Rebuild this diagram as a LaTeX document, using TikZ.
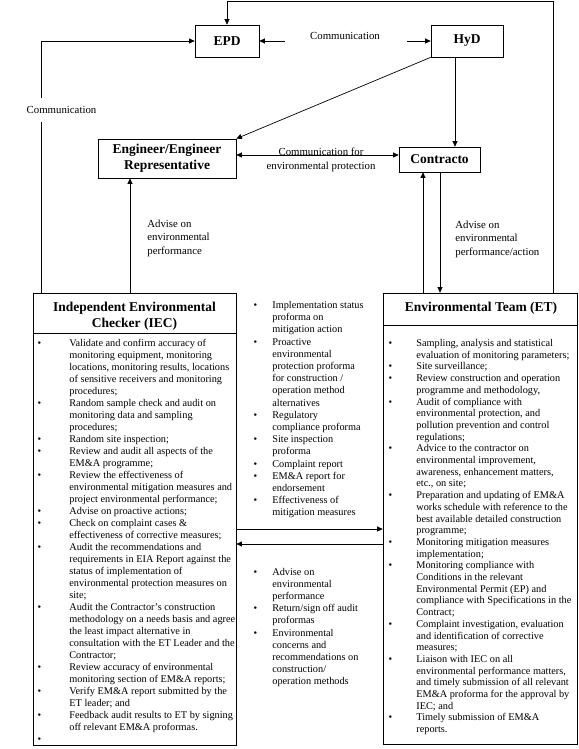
\documentclass[tikz,border=0pt]{standalone}
\usepackage{fontspec}
\setmainfont{Liberation Serif}
\usetikzlibrary{arrows.meta}
\newlength\hind
\newcommand{\bl}[1]{\par\noindent\hangindent=\hind\hangafter=1\makebox[\hind][l]{\textbullet}#1}
\newcommand{\blist}[3]{\parbox[t]{250pt}{\setlength\hind{#1}\fontsize{10.3}{#2}\selectfont\setlength\parskip{0pt}#3}}
\newcommand\headf{\fontsize{13.5}{16}\selectfont\bfseries}
\newcommand\lblf{\fontsize{10.8}{13.5}\selectfont}
\begin{document}
\begin{tikzpicture}[x=1pt,y=-1pt,line width=0.7pt,
  arr/.style={-{Triangle[length=5.5pt,width=5pt]}},
  arrb/.style={{Triangle[length=5.5pt,width=5pt]}-{Triangle[length=5.5pt,width=5pt]}},
  hbox/.style={draw,inner sep=0pt,font=\headf},
  bigbox/.style={draw,inner sep=0pt},
  lbl/.style={inner sep=0pt,font=\lblf}]
\useasboundingbox (0,0) rectangle (578,749);

% boxes
\node[hbox,minimum width=64pt,minimum height=32pt] (EPD) at (227,41) {EPD};
\node[hbox,minimum width=72pt,minimum height=32pt] (HyD) at (467,41) {HyD};
\node[hbox,minimum width=138pt,minimum height=39pt,align=center] (ENG) at (167,158.5) {Engineer/Engineer\\Representative};
\node[hbox,minimum width=81pt,minimum height=25pt] (CON) at (439.5,159.5) {Contracto};
\node[bigbox,minimum width=203pt,minimum height=452pt] (IEC) at (134.5,519) {};
\node[bigbox,minimum width=194pt,minimum height=451pt] (ET) at (480,518.5) {};
\draw (IEC.west |- 0,333) -- (IEC.east |- 0,333);
\draw (ET.west |- 0,325) -- (ET.east |- 0,325);

% titles
\node[anchor=base,inner sep=0pt] (IECt) at (134.5,311.5) {\parbox[t]{200pt}{\centering\headf Independent Environmental\\ Checker (IEC)}};
\node[anchor=base,inner sep=0pt,font=\headf] (ETt) at (481,311.5) {Environmental Team (ET)};

% connectors
\coordinate (tr) at (553,1);
\draw[arr] (ET.north -| tr) |- (EPD.north |- tr) -- (EPD.north);
\coordinate (lc) at (41,41);
\draw[arr] (IEC.north -| lc) -- node[pos=0.726,xshift=20.5pt,fill=white,inner xsep=1pt,inner ysep=8pt,font=\lblf] (commL) {Communication} (lc) -- (EPD.west |- lc);
\coordinate (c1) at (285,41);
\coordinate (c2) at (407,41);
\draw[arr] (c1) -- (EPD.east |- c1);
\draw[arr] (c2) -- (HyD.west |- c2);
\node[lbl] (commT) at (345,36) {Communication};
\draw[arr] (HyD.south west) -- (ENG.north east);
\coordinate (hx) at (455,57);
\draw[arr] (HyD.south -| hx) -- (CON.north -| hx);
\coordinate (ec) at (300,155);
\draw[arrb] (ENG.east |- ec) -- (CON.west |- ec);
\node[anchor=base,inner sep=0pt] (commE) at (321,155.5) {\parbox[t]{140pt}{\centering\lblf Communication for\\ environmental protection}};
\coordinate (ia) at (130,0);
\draw[arr] (IEC.north -| ia) -- (ENG.south -| ia);
\node[anchor=base west,inner sep=0pt] (advL) at (147,227) {\parbox[t]{100pt}{\lblf Advise on\\ environmental\\ performance}};
\coordinate (cd) at (440,0);
\draw[arr] (CON.south -| cd) -- (ET.north -| cd);
\coordinate (cu) at (423,0);
\draw[arr] (ET.north -| cu) -- (CON.south -| cu);
\node[anchor=base west,inner sep=0pt] (advR) at (455,228) {\parbox[t]{120pt}{\lblf Advise on\\ environmental\\ performance/action}};
\coordinate (m1) at (0,529);
\draw[arr] (IEC.east |- m1) -- (ET.west |- m1);
\coordinate (m2) at (0,544);
\draw[arr] (ET.west |- m2) -- (IEC.east |- m2);

% lists
\node[anchor=base west,inner sep=0pt] (iecl) at (37.2,346.5) {\blist{31.8pt}{12}{%
\bl{Validate and confirm accuracy of\\ monitoring equipment, monitoring\\ locations, monitoring results, locations\\ of sensitive receivers and monitoring\\ procedures;}
\bl{Random sample check and audit on\\ monitoring data and sampling\\ procedures;}
\bl{Random site inspection;}
\bl{Review and audit all aspects of the\\ EM\&A programme;}
\bl{Review the effectiveness of\\ environmental mitigation measures and\\ project environmental performance;}
\bl{Advise on proactive actions;}
\bl{Check on complaint cases \&\\ effectiveness of corrective measures;}
\bl{Audit the recommendations and\\ requirements in EIA Report against the\\ status of implementation of\\ environmental protection measures on\\ site;}
\bl{Audit the Contractor’s construction\\ methodology on a needs basis and agree\\ the least impact alternative in\\ consultation with the ET Leader and the\\ Contractor;}
\bl{Review accuracy of environmental\\ monitoring section of EM\&A reports;}
\bl{Verify EM\&A report submitted by the\\ ET leader; and}
\bl{Feedback audit results to ET by signing\\ off relevant EM\&A proformas.}
\bl{}}};

\node[anchor=base west,inner sep=0pt] (midu) at (253.2,308.5) {\blist{18.8pt}{12.2}{%
\bl{Implementation status\\ proforma on\\ mitigation action}
\bl{Proactive\\ environmental\\ protection proforma\\ for construction /\\ operation method\\ alternatives}
\bl{Regulatory\\ compliance proforma}
\bl{Site inspection\\ proforma}
\bl{Complaint report}
\bl{EM\&A report for\\ endorsement}
\bl{Effectiveness of\\ mitigation measures}}};

\node[anchor=base west,inner sep=0pt] (midl) at (253.2,575.5) {\blist{18.8pt}{12.1}{%
\bl{Advise on\\ environmental\\ performance}
\bl{Return/sign off audit\\ proformas}
\bl{Environmental\\ concerns and\\ recommendations on\\ construction/\\ operation methods}}};

\node[anchor=base west,inner sep=0pt] (etl) at (388.2,346.5) {\blist{27.8pt}{11.7}{%
\bl{Sampling, analysis and statistical\\ evaluation of monitoring parameters;}
\bl{Site surveillance;}
\bl{Review construction and operation\\ programme and methodology,}
\bl{Audit of compliance with\\ environmental protection, and\\ pollution prevention and control\\ regulations;}
\bl{Advice to the contractor on\\ environmental improvement,\\ awareness, enhancement matters,\\ etc., on site;}
\bl{Preparation and updating of EM\&A\\ works schedule with reference to the\\ best available detailed construction\\ programme;}
\bl{Monitoring mitigation measures\\ implementation;}
\bl{Monitoring compliance with\\ Conditions in the relevant\\ Environmental Permit (EP) and\\ compliance with Specifications in the\\ Contract;}
\bl{Complaint investigation, evaluation\\ and identification of corrective\\ measures;}
\bl{Liaison with IEC on all\\ environmental performance matters,\\ and timely submission of all relevant\\ EM\&A proforma for the approval by\\ IEC; and}
\bl{Timely submission of EM\&A\\ reports.}}};
\end{tikzpicture}
\end{document}
